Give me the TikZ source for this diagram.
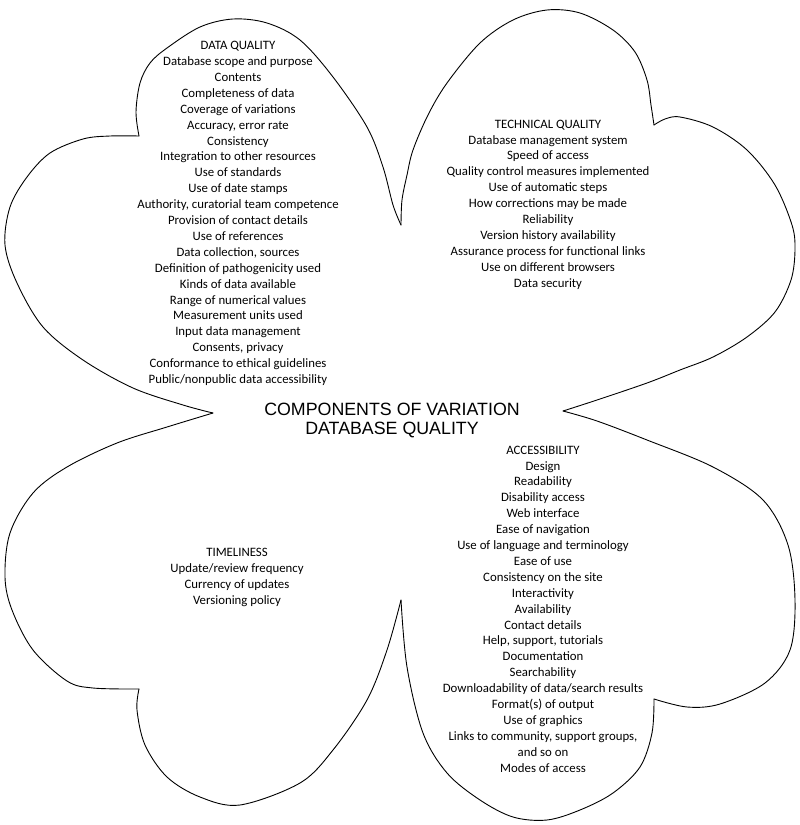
\documentclass[tikz,border=0pt]{standalone}
\usepackage{fontspec}
\setmainfont{Carlito}
\newfontfamily\titlefont{Liberation Sans}
\begin{document}
\begin{tikzpicture}[x=1pt,y=-1pt,
  outline/.style={draw=black,line width=0.9pt,line cap=round,line join=round},
  seg/.style={smooth,tension=0.55},
  listtext/.style={align=center,inner sep=0pt,font=\fontsize{12.8}{15.9}\selectfont},
  titletext/.style={align=center,inner sep=0pt,font=\titlefont\fontsize{17.8}{19}\selectfont}]
\useasboundingbox (0,0) rectangle (800,825);
% outline of the four petals
\draw[outline] plot[seg] coordinates {(213,413) (183,405) (133,388) (83,360) (43,327) (17,283) (5,245) (10,207) (27,177) (50,153) (83,139) (110,136) (139,136)};
\draw[outline] plot[seg] coordinates {(139,136) (136,112) (140,83) (150,63) (167,48) (200,27) (233,19) (267,23) (300,40) (333,77) (367,127) (383,167) (393,205) (401,225)};
\draw[outline] plot[seg] coordinates {(401,225) (402,200) (407,175) (413,150) (428,115) (447,83) (480,43) (513,20) (547,10) (580,13) (613,30) (635,52) (647,80) (651,105) (654,125)};
\draw[outline] plot[seg] coordinates {(654,125) (665,119) (680,117) (713,127) (747,150) (775,185) (792,225) (795,250) (791,280) (775,312) (747,337) (713,357) (680,370) (647,383) (597,400) (563,411)};
\draw[outline] plot[seg] coordinates {(563,411) (597,421) (647,440) (713,467) (763,500) (788,545) (795,600) (790,650) (765,683) (720,704) (687,707) (654,699)};
\draw[outline] plot[seg] coordinates {(654,699) (652,733) (640,767) (613,793) (580,810) (547,820) (513,817) (480,800) (447,773) (423,733) (407,667) (401,600)};
\draw[outline] plot[seg] coordinates {(401,600) (387,650) (367,700) (333,750) (300,783) (240,805) (200,797) (167,777) (145,745) (137,710) (139,689)};
\draw[outline] plot[seg] coordinates {(139,689) (93,688) (67,681) (33,650) (12,610) (5,577) (10,533) (33,493) (67,467) (117,443) (167,427) (213,413)};
% texts
\node[titletext] (title) at (392,420.5) {COMPONENTS OF VARIATION\\DATABASE QUALITY};
\node[listtext] (dq) at (238,213.5) {DATA QUALITY\\Database scope and purpose\\Contents\\Completeness of data\\Coverage of variations\\Accuracy, error rate\\Consistency\\Integration to other resources\\Use of standards\\Use of date stamps\\Authority, curatorial team competence\\Provision of contact details\\Use of references\\Data collection, sources\\Definition of pathogenicity used\\Kinds of data available\\Range of numerical values\\Measurement units used\\Input data management\\Consents, privacy\\Conformance to ethical guidelines\\Public/nonpublic data accessibility};
\node[listtext] (tq) at (548,204.5) {TECHNICAL QUALITY\\Database management system\\Speed of access\\Quality control measures implemented\\Use of automatic steps\\How corrections may be made\\Reliability\\Version history availability\\Assurance process for functional links\\Use on different browsers\\Data security};
\node[listtext] (acc) at (543,609) {ACCESSIBILITY\\Design\\Readability\\Disability access\\Web interface\\Ease of navigation\\Use of language and terminology\\Ease of use\\Consistency on the site\\Interactivity\\Availability\\Contact details\\Help, support, tutorials\\Documentation\\Searchability\\Downloadability of data/search results\\Format(s) of output\\Use of graphics\\Links to community, support groups,\\and so on\\Modes of access};
\node[listtext] (tl) at (237,577.5) {TIMELINESS\\Update/review frequency\\Currency of updates\\Versioning policy};
\end{tikzpicture}
\end{document}
